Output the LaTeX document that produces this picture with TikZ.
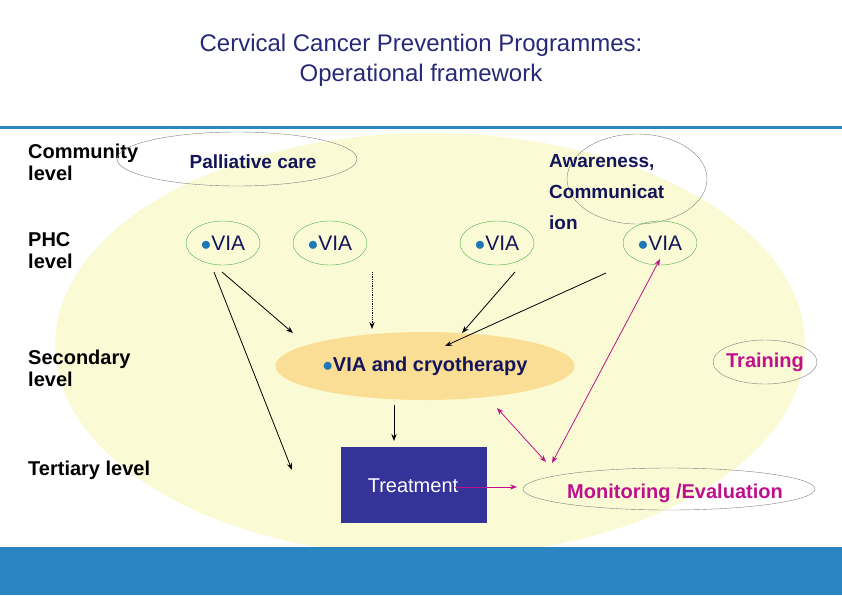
\documentclass[tikz,border=0pt]{standalone}
\usepackage{fontspec}
\setmainfont{Liberation Sans}
\usetikzlibrary{arrows.meta}
\definecolor{ttl}{RGB}{40,40,120}
\definecolor{band}{RGB}{42,133,192}
\definecolor{ylw}{RGB}{250,251,212}
\definecolor{org}{RGB}{251,222,150}
\definecolor{navy}{RGB}{20,20,90}
\definecolor{mag}{RGB}{190,16,140}
\definecolor{box}{RGB}{51,51,153}
\definecolor{bul}{RGB}{30,120,180}
\begin{document}
\begin{tikzpicture}[x=1pt,y=-1pt,
 lvl/.style={font=\bfseries\fontsize{20}{22}\selectfont,align=left,anchor=north west,inner sep=0},
 oval/.style={draw=gray,ellipse,thin},
 via/.style={draw=green!40!gray,thin,minimum width=74pt,minimum height=44pt,ellipse,font=\fontsize{21}{22}\selectfont,text=navy},
 arr/.style={-{Stealth[length=7pt]},thick},
 marr/.style={{Stealth[length=7pt]}-{Stealth[length=7pt]},thick,mag}]
\useasboundingbox (0,0) rectangle (842,595);
\usetikzlibrary{shapes.geometric}
\fill[ylw] (430,345) ellipse [x radius=375, y radius=212];
\fill[band] (0,547) rectangle (842,595);
\draw[band,line width=3pt] (0,127) -- (842,127);
\node[text=ttl,font=\fontsize{24}{30}\selectfont,align=center] (title) at (421,60) {Cervical Cancer Prevention Programmes:\\Operational framework};
\node[lvl] (l1) at (28,144) {Community\\level};
\node[lvl] (l2) at (28,232) {PHC\\level};
\node[lvl] (l3) at (28,350) {Secondary\\level};
\node[lvl] (l4) at (28,461) {Tertiary level};
\draw[gray,thin] (237,159) ellipse [x radius=120, y radius=27];
\node[text=navy,font=\bfseries\fontsize{19}{20}\selectfont] (pc) at (253,162) {Palliative care};
\draw[gray,thin] (637,179) ellipse [x radius=70, y radius=45];
\node[text=navy,font=\bfseries\fontsize{19}{31}\selectfont,align=left,anchor=north west,inner sep=0] (aw) at (549,154) {Awareness,\\Communicat\\ion};
\node[via] (v1) at (223,243) {\textcolor{bul}{$\bullet$}VIA};
\node[via] (v2) at (330,243) {\textcolor{bul}{$\bullet$}VIA};
\node[via] (v3) at (497,243) {\textcolor{bul}{$\bullet$}VIA};
\node[via] (v4) at (660,243) {\textcolor{bul}{$\bullet$}VIA};
\node[ellipse,fill=org,minimum width=280pt,minimum height=68pt,font=\bfseries\fontsize{20}{22}\selectfont,text=navy] (cr) at (425,366) {\textcolor{bul}{$\bullet$}VIA and cryotherapy};
\node[fill=box,minimum width=146pt,minimum height=76pt,text=white,font=\fontsize{20}{22}\selectfont,anchor=north west,inner sep=0] (tr) at (341,447) {};
\node[text=white,font=\fontsize{20}{22}\selectfont] (trt) at (413,486) {Treatment};
\draw[gray,thin] (765,362) ellipse [x radius=52, y radius=22];
\node[text=mag,font=\bfseries\fontsize{20}{22}\selectfont] (tn) at (765,362) {Training};
\draw[gray,thin] (669,489) ellipse [x radius=146, y radius=21];
\node[text=mag,font=\bfseries\fontsize{20}{22}\selectfont] (mo) at (675,493) {Monitoring /Evaluation};
\coordinate (a1) at (222,272); \coordinate (a2) at (293,333);
\coordinate (b1) at (214,272); \coordinate (b2) at (292,470);
\coordinate (c1) at (372,272); \coordinate (c2) at (372,329);
\coordinate (d1) at (515,272); \coordinate (d2) at (462,333);
\coordinate (e1) at (606,273); \coordinate (e2) at (445,346);
\coordinate (f1) at (394,405); \coordinate (f2) at (394,441);
\coordinate (g1) at (497,408); \coordinate (g2) at (546,462);
\coordinate (h1) at (552,463); \coordinate (h2) at (660,259);
\coordinate (i1) at (455,487); \coordinate (i2) at (517,487);
\draw[arr] (a1) -- (a2);
\draw[arr] (b1) -- (b2);
\draw[arr,densely dotted] (c1) -- (c2);
\draw[arr] (d1) -- (d2);
\draw[arr] (e1) -- (e2);
\draw[arr] (f1) -- (f2);
\draw[marr] (g1) -- (g2);
\draw[marr] (h1) -- (h2);
\draw[thick,mag,-{Stealth[length=7pt]}] (i1) -- (i2);
\end{tikzpicture}
\end{document}
